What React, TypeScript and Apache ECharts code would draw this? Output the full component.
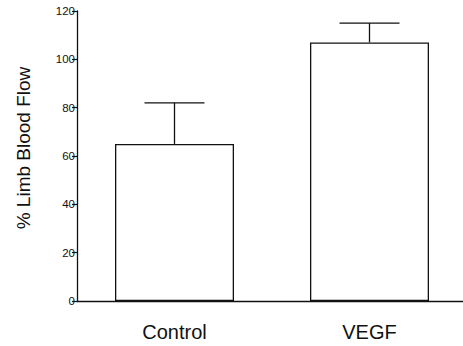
import React, { useEffect, useRef } from "react";
import * as echarts from "echarts";

const categories = ["Control", "VEGF"];
const means = [65, 107];
const errors = [17, 8];
const yTicks = [0, 20, 40, 60, 80, 100, 120];
const yAxisTitle = "% Limb Blood Flow";

export default function App() {
  const ref = useRef<HTMLDivElement>(null);
  useEffect(() => {
    if (!ref.current) return;
    const chart = echarts.init(ref.current, null, { renderer: "svg" });
    const errData = categories.map((_, i) => [i, means[i], means[i] + errors[i]]);
    chart.setOption({
      animation: false,
      backgroundColor: "#ffffff",
      grid: { left: 77, top: 11, width: 390, height: 290, outerBoundsMode: "none" },
      xAxis: {
        type: "category",
        data: categories,
        axisLine: { show: true, lineStyle: { color: "#111", width: 1.3 } },
        axisTick: { show: false },
        axisLabel: {
          color: "#111",
          fontSize: 20,
          fontFamily: "Liberation Sans, Arial, sans-serif",
          margin: 21,
        },
      },
      yAxis: {
        type: "value",
        min: yTicks[0],
        max: yTicks[yTicks.length - 1],
        interval: 20,
        splitLine: { show: false },
        axisLine: { show: true, lineStyle: { color: "#111", width: 1.3 } },
        axisTick: { show: true, length: 5, lineStyle: { color: "#111", width: 1.2 } },
        axisLabel: {
          color: "#111",
          fontSize: 11.5,
          fontFamily: "Liberation Sans, Arial, sans-serif",
          margin: 2,
        },
      },
      graphic: [
        {
          type: "text",
          x: 23,
          y: 148,
          rotation: Math.PI / 2,
          style: {
            text: yAxisTitle,
            fontSize: 19,
            fontFamily: "Liberation Sans, Arial, sans-serif",
            fill: "#111",
            align: "center",
            verticalAlign: "middle",
          },
        },
      ],
      series: [
        {
          type: "bar",
          data: means,
          barWidth: 119,
          itemStyle: { color: "#ffffff", borderColor: "#111", borderWidth: 1.3 },
          z: 2,
        },
        {
          type: "custom",
          data: errData,
          z: 3,
          renderItem: (params: any, api: any) => {
            const x = api.value(0);
            const base = api.coord([x, api.value(1)]);
            const top = api.coord([x, api.value(2)]);
            const half = 30;
            return {
              type: "group",
              children: [
                {
                  type: "line",
                  shape: { x1: base[0], y1: base[1], x2: top[0], y2: top[1] },
                  style: { stroke: "#111", lineWidth: 1.3 },
                },
                {
                  type: "line",
                  shape: { x1: top[0] - half, y1: top[1], x2: top[0] + half, y2: top[1] },
                  style: { stroke: "#111", lineWidth: 1.3 },
                },
              ],
            };
          },
        },
      ],
    });
    return () => chart.dispose();
  }, []);
  return (
    <div
      ref={ref}
      style={{ position: "fixed", left: 0, top: 0, width: 463, height: 346 }}
    />
  );
}
